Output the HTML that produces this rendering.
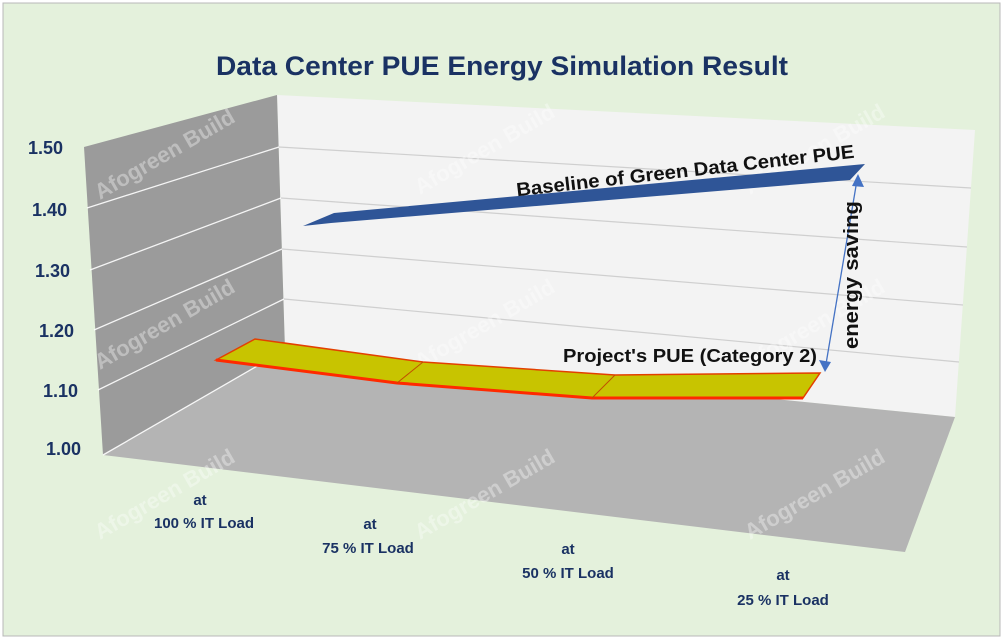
<!DOCTYPE html>
<html><head><meta charset="utf-8"><style>
html,body{margin:0;padding:0;background:#fff}
svg{display:block}
text{font-family:"Liberation Sans",sans-serif}
</style></head><body>
<svg width="1004" height="640" viewBox="0 0 1004 640">
<rect x="0" y="0" width="1004" height="640" fill="#ffffff"/>
<rect x="3" y="3" width="997" height="633" fill="#e4f1dc" stroke="#b8b8b8" stroke-width="1"/>
<text x="502" y="75" text-anchor="middle" font-size="27" font-weight="bold" fill="#1a3263" textLength="572" lengthAdjust="spacingAndGlyphs">Data Center PUE Energy Simulation Result</text>
<polygon points="277,95 975,130 955,417 285,350" fill="#f3f3f3"/>
<polygon points="84,147 277,95 285,350 103,455" fill="#9b9b9b"/>
<polygon points="103,455 285,350 955,417 905,552" fill="#b4b4b4"/>
<g stroke="#ffffff" stroke-width="1.3" fill="none" opacity="0.9">
<line x1="87" y1="208" x2="279" y2="147"/>
<line x1="90" y1="270" x2="281" y2="198"/>
<line x1="94" y1="330" x2="282" y2="249"/>
<line x1="98" y1="390" x2="284" y2="299"/>
<line x1="103" y1="455" x2="285" y2="350"/>
</g>
<g stroke="#cfcfcf" stroke-width="1.2" fill="none">
<line x1="279" y1="147" x2="971" y2="188"/>
<line x1="281" y1="198" x2="967" y2="247"/>
<line x1="282" y1="249" x2="963" y2="305"/>
<line x1="284" y1="299" x2="959" y2="362"/>
</g>
<g fill="#ffffff" opacity="0.35" font-size="22" font-weight="bold">
<text transform="translate(100,200) rotate(-30)">Afogreen Build</text>
<text transform="translate(100,370) rotate(-30)">Afogreen Build</text>
<text transform="translate(420,195) rotate(-30)">Afogreen Build</text>
<text transform="translate(420,370) rotate(-30)">Afogreen Build</text>
<text transform="translate(750,195) rotate(-30)">Afogreen Build</text>
<text transform="translate(750,370) rotate(-30)">Afogreen Build</text>
<text transform="translate(100,540) rotate(-30)">Afogreen Build</text>
<text transform="translate(420,540) rotate(-30)">Afogreen Build</text>
<text transform="translate(750,540) rotate(-30)">Afogreen Build</text>
</g>
<polygon points="216,360 255,339 423,362 615,375 820,373 803,398 592,398 397,383" fill="#c8c400" stroke="#e34000" stroke-width="1.5"/>
<polyline points="216,360 397,383 592,398 803,398" fill="none" stroke="#ff2a00" stroke-width="3"/>
<line x1="423" y1="362" x2="397" y2="383" stroke="#c05000" stroke-width="1"/>
<line x1="615" y1="375" x2="592" y2="398" stroke="#c05000" stroke-width="1"/>
<polygon points="303,226 334,213 865,164 850,180 331,223" fill="#2f5597"/>
<line x1="857" y1="180" x2="826" y2="364" stroke="#4472c4" stroke-width="1.3"/>
<polygon points="858,174 852,186 864,187" fill="#4472c4"/>
<polygon points="825,372 819,360 831,362" fill="#4472c4"/>
<text transform="translate(686,177) rotate(-6.5)" text-anchor="middle" font-size="19" font-weight="bold" fill="#111" textLength="340" lengthAdjust="spacingAndGlyphs">Baseline of Green Data Center PUE</text>
<text transform="translate(858,275) rotate(-90)" text-anchor="middle" font-size="20" font-weight="bold" fill="#111" textLength="148" lengthAdjust="spacingAndGlyphs">energy saving</text>
<text x="690" y="362" text-anchor="middle" font-size="18" font-weight="bold" fill="#111" textLength="254" lengthAdjust="spacingAndGlyphs">Project's PUE (Category 2)</text>
<g font-size="18" font-weight="bold" fill="#1a3263" text-anchor="end">
<text x="63" y="154">1.50</text>
<text x="67" y="216">1.40</text>
<text x="70" y="277">1.30</text>
<text x="74" y="337">1.20</text>
<text x="78" y="397">1.10</text>
<text x="81" y="455">1.00</text>
</g>
<g font-size="15" font-weight="bold" fill="#1a3263" text-anchor="middle">
<text x="200" y="505">at</text><text x="204" y="528">100 % IT Load</text>
<text x="370" y="529">at</text><text x="368" y="553">75 % IT Load</text>
<text x="568" y="554">at</text><text x="568" y="578">50 % IT Load</text>
<text x="783" y="580">at</text><text x="783" y="605">25 % IT Load</text>
</g>
</svg>
</body></html>
